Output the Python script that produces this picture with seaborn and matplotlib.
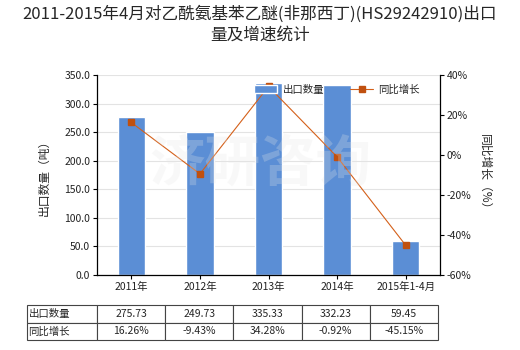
import numpy as np
import pandas as pd
import matplotlib
matplotlib.use("Agg")
import matplotlib.pyplot as plt
import seaborn as sns

categories = ["2011年", "2012年", "2013年", "2014年", "2015年1-4月"]
export_qty = [275.73, 249.73, 335.33, 332.23, 59.45]
growth = [16.26, -9.43, 34.28, -0.92, -45.15]
qty_labels = ["275.73", "249.73", "335.33", "332.23", "59.45"]
growth_labels = ["16.26%", "-9.43%", "34.28%", "-0.92%", "-45.15%"]
title = "2011-2015年4月对乙酰氨基苯乙醚(非那西丁)(HS29242910)出口\n量及增速统计"

sns.set_theme(style="white")
plt.rcParams['font.family'] = ['Noto Sans CJK SC', 'DejaVu Sans']
plt.rcParams['axes.unicode_minus'] = False

bar_color = "#5B8ED5"
line_color = "#D4601A"

fig = plt.figure(figsize=(5.2, 3.5), dpi=100)
ax = fig.add_axes([97/520, 1-275/350, (440-97)/520, 200/350])

df = pd.DataFrame({"cat": categories, "qty": export_qty, "growth": growth})
sns.barplot(data=df, x="cat", y="qty", color=bar_color, width=0.4, ax=ax,
            saturation=1, label="出口数量", zorder=2)
if ax.get_legend() is not None:
    ax.get_legend().remove()
ax.set_ylim(0, 350)
ax.set_yticks(np.arange(0, 351, 50))
ax.set_yticklabels([f"{v:.1f}" for v in np.arange(0, 351, 50)], fontsize=7.5)
ax.set_xticks(range(len(categories)))
ax.set_xticklabels(categories, fontsize=7.5)
ax.set_xlabel("")
ax.set_ylabel("出口数量（吨）", fontsize=8.5, labelpad=10)
ax.grid(axis="y", color="#E3E3E3", linewidth=0.8, zorder=0)
ax.set_axisbelow(True)
ax.tick_params(axis="both", which="both", direction="out", length=3, width=0.8,
               colors="black", labelcolor="#222222", pad=2, left=True, bottom=True)
for s in ["left", "bottom"]:
    ax.spines[s].set_color("black")
    ax.spines[s].set_linewidth(0.9)
ax.spines["top"].set_visible(False)
ax.spines["right"].set_visible(False)
ax.set_xlim(-0.5, len(categories) - 0.5)

ax2 = ax.twinx()
ax2.plot(np.arange(len(categories)), df["growth"], color=line_color, linewidth=0.8,
         marker="s", markersize=4, markerfacecolor="#C0500F", markeredgecolor="#C0500F",
         label="同比增长", zorder=3)
ax2.set_ylim(-60, 40)
ax2.set_yticks(np.arange(-60, 41, 20))
ax2.set_yticklabels([f"{v}%" for v in range(-60, 41, 20)], fontsize=7.5)
ax2.set_ylabel("同比增长（%）", fontsize=8.5, rotation=270, labelpad=14)
ax2.tick_params(axis="y", direction="out", length=3, width=0.8, colors="black",
                labelcolor="#222222", pad=2, right=True)
ax2.spines["right"].set_color("black")
ax2.spines["right"].set_linewidth(0.9)
ax2.spines["left"].set_visible(False)
ax2.spines["top"].set_visible(False)
ax2.spines["bottom"].set_visible(False)
ax2.grid(False)

# watermark
fig.text(0.5, 0.53, "济研咨询", fontsize=40, color="#E6E6E6", alpha=0.25,
         ha="center", va="center", zorder=10, fontweight="bold")

h1, l1 = ax.get_legend_handles_labels()
h2, l2 = ax2.get_legend_handles_labels()
ax2.legend(h1 + h2, l1 + l2, loc="upper center", bbox_to_anchor=(0.7, 1.0),
           ncol=2, frameon=False, fontsize=7.5, handlelength=2.2, columnspacing=2.5,
           handletextpad=0.5)

fig.suptitle(title, fontsize=12, y=0.985, linespacing=1.3)

# data table
row_labels = ["出口数量", "同比增长"]
cell_text = [[row_labels[0]] + qty_labels, [row_labels[1]] + growth_labels]
x0 = (27 - 97) / 343
tbl = ax.table(cellText=cell_text, cellLoc="center",
               bbox=[x0, -0.325, 1 - x0 - 2/343, 0.175])
tbl.auto_set_font_size(False)
tbl.set_fontsize(7.5)
first_w = (97 - 27) / (438 - 27)
other_w = (1 - first_w) / len(categories)
for (r, c), cell in tbl.get_celld().items():
    cell.set_edgecolor("#444444")
    cell.set_linewidth(0.8)
    cell.set_width(first_w if c == 0 else other_w)
    if c == 0:
        cell.get_text().set_ha("left")
        cell.PAD = 0.02

fig.savefig("out.png", dpi=100)
